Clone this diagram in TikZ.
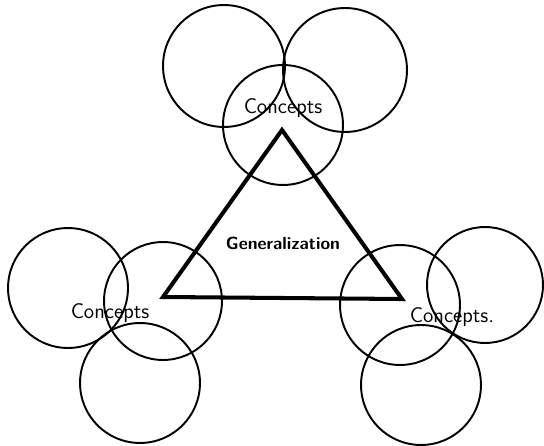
\documentclass[tikz,border=0pt]{standalone}
\usepackage{tikz}
\usetikzlibrary{positioning}

\begin{document}
\begin{tikzpicture}[
  x=0.02cm, y=-0.02cm,
  ring/.style={circle, draw, line width=1.1pt, minimum size=#1*0.04cm, inner sep=0pt},
  label/.style={font=\sffamily\large},
]
\useasboundingbox (0,0) rectangle (544,446);

% top cluster
\node[ring=61] (tl) at (224,66) {};
\node[ring=62] (tr) at (345,70) {};
\node[ring=60] (tc) at (283,125) {};
\node[label] (ctop) at (283,108) {Concepts};

% left cluster
\node[ring=60] (ll) at (68,288) {};
\node[ring=59] (lm) at (163,301) {};
\node[ring=60] (lb) at (140,383) {};
\node[label] (cleft) at (110,313) {Concepts};

% right cluster
\node[ring=60] (rl) at (400,305) {};
\node[ring=58] (rr) at (485,285) {};
\node[ring=60] (rb) at (421,385) {};
\node[label] (cright) at (452,317) {Concepts.};

% triangle
\coordinate (apex) at (282,130);
\coordinate (bl) at (163,297);
\coordinate (br) at (402,299);
\draw[line width=2.3pt, line join=miter] (apex) -- (bl) -- (br) -- cycle;
\node[font=\sffamily\bfseries] (gen) at (283,243) {Generalization};
\end{tikzpicture}
\end{document}
